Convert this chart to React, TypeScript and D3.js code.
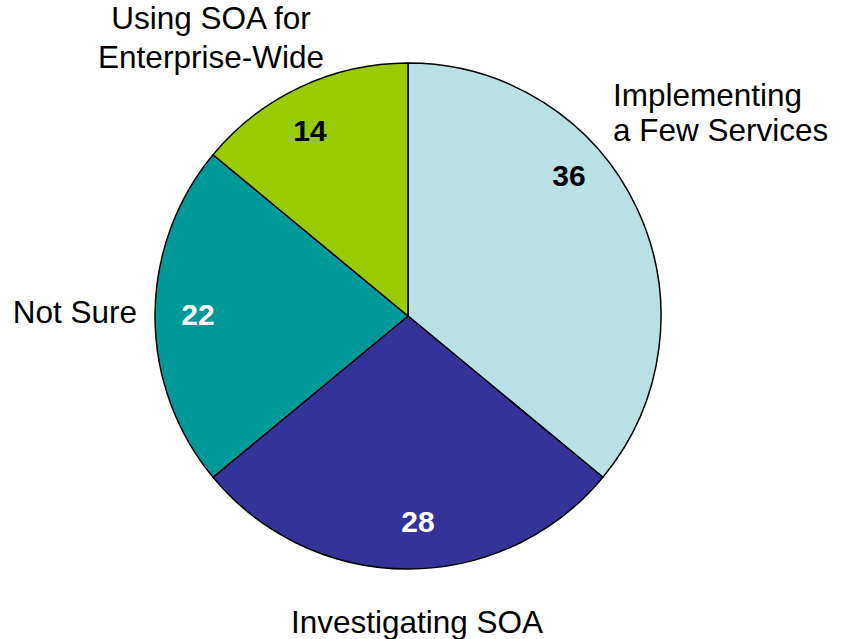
import React from "react";
import * as d3 from "d3";

const categories = ["Implementing a Few Services", "Investigating SOA", "Not Sure", "Using SOA for Enterprise-Wide"];
const values = [36, 28, 22, 14];
const colors = ["#B9E0E3", "#333399", "#009999", "#99CC00"];
const numberColors = ["#000000", "#FFFFFF", "#FFFFFF", "#000000"];
const labelLines = [["Implementing", "a Few Services"], ["Investigating SOA"], ["Not Sure"], ["Using SOA for", "Enterprise-Wide"]];

const W = 845, H = 639;
const cx = 408, cy = 316, R = 253;
// label placement (relative to pie center) - layout only
const numberPos = [[161, -130], [10, 216], [-210, 9], [-98, -175]];
const labelPos: [number, number, string, number][] = [
  [205, -210, "start", 35],
  [9, 317, "middle", 35],
  [-271, 7, "end", 35],
  [-197, -287, "middle", 39],
];
const FONT = "'Liberation Sans', Arial, Helvetica, sans-serif";

export default function App() {
  const pie = d3.pie<number>().sort(null).value((d) => d).startAngle(0).endAngle(2 * Math.PI);
  const arcs = pie(values);
  const arc = d3.arc<d3.PieArcDatum<number>>().innerRadius(0).outerRadius(R);
  return (
    <svg width={W} height={H} style={{ position: "absolute", left: 0, top: 0, background: "#fff" }}>
      <g transform={`translate(${cx},${cy})`}>
        {arcs.map((a, i) => (
          <path key={i} d={arc(a) || ""} fill={colors[i]} stroke="#000" strokeWidth={1.5} strokeLinejoin="round" />
        ))}
        {arcs.map((a, i) => (
          <text key={"n" + i} x={numberPos[i][0]} y={numberPos[i][1]} textAnchor="middle" fontFamily={FONT} fontWeight="bold" fontSize={30} fill={numberColors[i]}>
            {values[i]}
          </text>
        ))}
        {categories.map((c, i) => (
          <text key={"l" + i} x={labelPos[i][0]} y={labelPos[i][1]} textAnchor={labelPos[i][2] as any} fontFamily={FONT} fontSize={31.5} fill="#000">
            {labelLines[i].map((t, j) => (
              <tspan key={j} x={labelPos[i][0]} dy={j === 0 ? 0 : labelPos[i][3]}>{t}</tspan>
            ))}
          </text>
        ))}
      </g>
    </svg>
  );
}
